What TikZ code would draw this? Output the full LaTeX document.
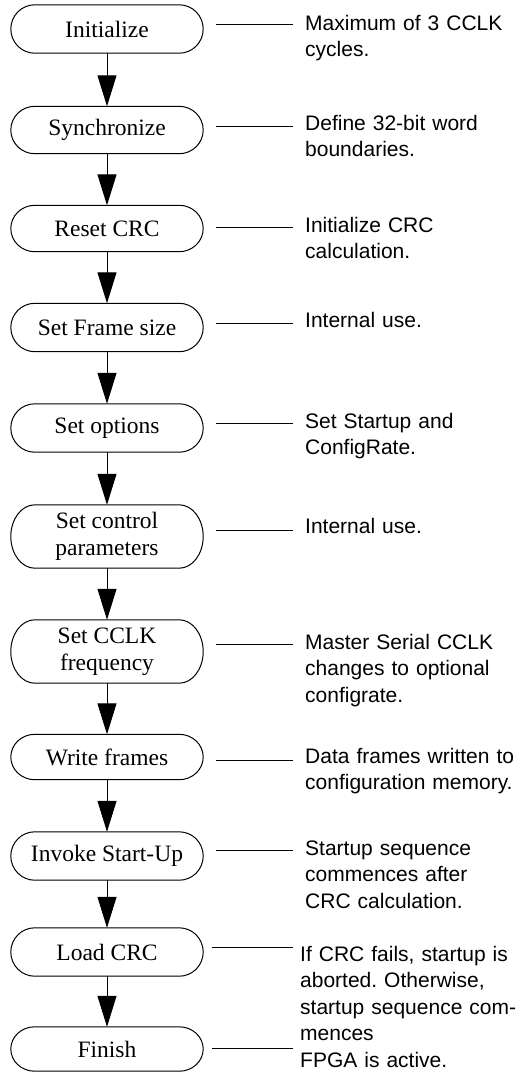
\documentclass[tikz,border=0pt]{standalone}
\usepackage{fontspec}
\setmainfont{Liberation Serif}
\newfontfamily\notefont{Liberation Sans}
\usetikzlibrary{arrows.meta,calc}
\frenchspacing

\begin{document}
\begin{tikzpicture}[x=1pt,y=-1pt,
  stage/.style={minimum width=192pt, inner sep=0pt, align=center,
    font=\fontsize{23.5}{26.5}\selectfont},
  note/.style={anchor=base west, inner sep=0pt, text width=222pt, align=left,
    font=\notefont\fontsize{21}{26.5}\selectfont},
  flow/.style={line width=1pt, -{Triangle[length=31pt,width=19pt]}},
  lead/.style={line width=0.9pt},
  outline/.style={line width=1pt}]
\useasboundingbox (0,0) rectangle (525,1072);

% configuration steps
\node[stage, minimum height=48pt] (b1)  at (107,29)    {Initialize};
\node[stage, minimum height=47pt] (b2)  at (107,130)   {Synchronize};
\node[stage, minimum height=46pt] (b3)  at (107,228.5) {Reset CRC};
\node[stage, minimum height=48pt] (b4)  at (107,327.5) {Set Frame size};
\node[stage, minimum height=48pt] (b5)  at (107,428)   {Set options};
\node[stage, minimum height=63pt] (b6)  at (107,536.5) {Set control\\parameters};
\node[stage, minimum height=63pt] (b7)  at (107,651.5) {Set CCLK\\frequency};
\node[stage, minimum height=45pt] (b8)  at (107,757)   {Write frames};
\node[stage, minimum height=48pt] (b9)  at (107,856)   {Invoke Start-Up};
\node[stage, minimum height=48pt] (b10) at (107,952)   {Load CRC};
\node[stage, minimum height=44pt] (b11) at (107,1049)  {Finish};

% stadium outlines around the steps
\foreach \i in {1,...,11}{
  \draw[outline] let \p1=(b\i.north), \p2=(b\i.south), \n1={(\y1-\y2)/2} in
    ([xshift=24pt]b\i.north west) -- ([xshift=-24pt]b\i.north east)
    arc[start angle=90, end angle=-90, x radius=24pt, y radius=\n1]
    -- ([xshift=24pt]b\i.south west)
    arc[start angle=270, end angle=90, x radius=24pt, y radius=\n1] -- cycle;
}

% explanations
\node[note] (d1)  at (305,30)   {Maximum of 3 CCLK\\cycles.};
\node[note] (d2)  at (305,130)  {Define 32-bit word\\boundaries.};
\node[note] (d3)  at (305,232)  {Initialize CRC\\calculation.};
\node[note] (d4)  at (305,327)  {Internal use.};
\node[note] (d5)  at (305,428)  {Set Startup and\\ConfigRate.};
\node[note] (d6)  at (305,533)  {Internal use.};
\node[note] (d7)  at (305,649)  {Master Serial CCLK\\changes to optional\\configrate.};
\node[note] (d8)  at (305,763)  {Data frames written to\\configuration memory.};
\node[note] (d9)  at (305,855)  {Startup sequence\\commences after\\CRC calculation.};
\node[note] (d10) at (300,961)  {If CRC fails, startup is\\aborted. Otherwise,\\startup sequence com-\\mences};
\node[note] (d11) at (300,1067) {FPGA is active.};

% flow arrows
\foreach \a/\b in {1/2,2/3,3/4,4/5,5/6,6/7,7/8,8/9,9/10,10/11}
  \draw[flow] (b\a.south) -- (b\b.north);

% leader lines from steps to explanations
\foreach \i/\cy/\sl/\sr in {1/24/13/12, 2/126/13/12, 3/227/13/12, 4/323/13/12,
    5/423/13/12, 6/530/13/12, 7/644/13/12, 8/760/13/12, 9/850/13/12,
    10/947/9/7, 11/1048/9/7}{
  \coordinate (k\i) at (0,\cy);
  \draw[lead, shorten <=\sl pt, shorten >=\sr pt] (b\i.east |- k\i) -- (d\i.west |- k\i);
}
\end{tikzpicture}
\end{document}
